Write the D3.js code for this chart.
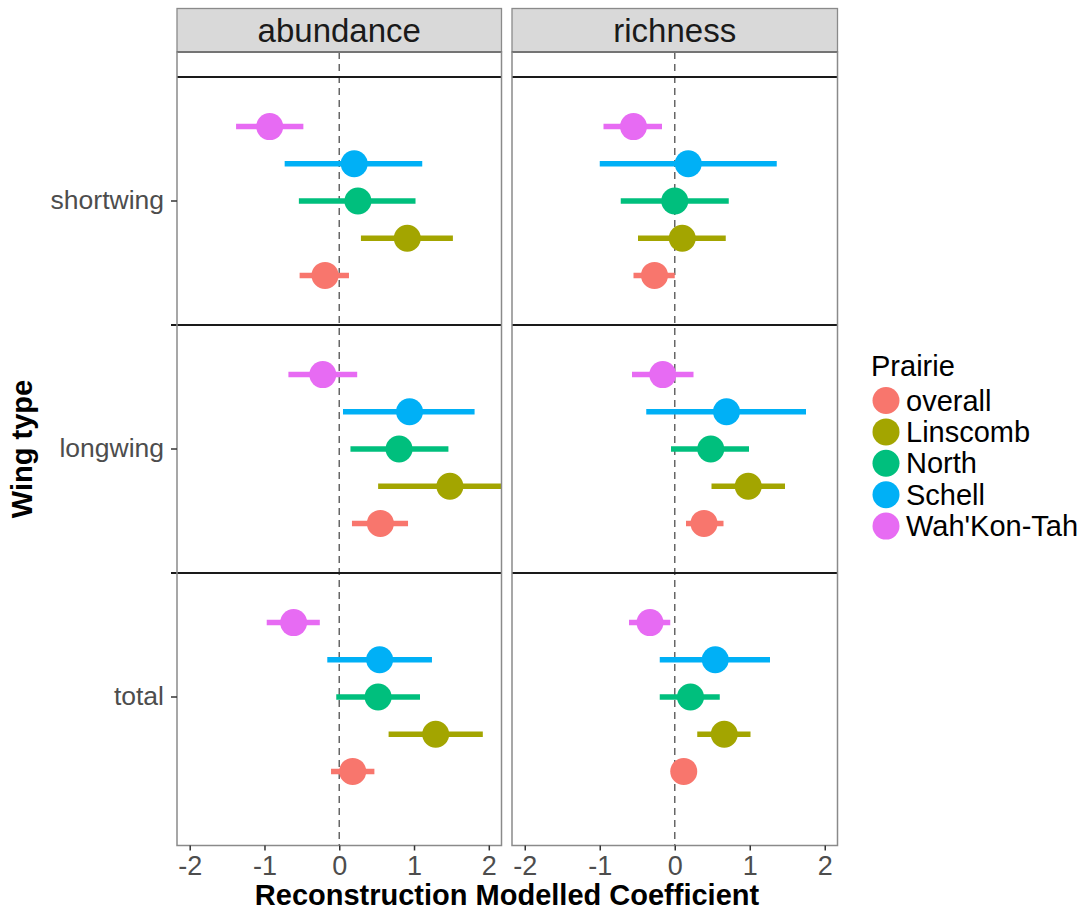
<!DOCTYPE html>
<html>
<head>
<meta charset="utf-8">
<script src="https://cdn.jsdelivr.net/npm/d3@7"></script>
<style>
  html, body { margin: 0; padding: 0; background: #fff; }
  svg { display: block; font-family: "Liberation Sans", Arial, sans-serif; }
</style>
</head>
<body>
<svg id="chart" width="1091" height="912"></svg>
<script>
// Categories
const metrics = ["abundance", "richness"];
const wingTypes = ["shortwing", "longwing", "total"];
const prairies = ["overall", "Linscomb", "North", "Schell", "Wah'Kon-Tah"];
const prairieColors = ["#F8766D", "#A3A500", "#00BF7D", "#00B0F6", "#E76BF3"];
const xTicks = [-2, -1, 0, 1, 2];

// Coefficient estimates and interval bounds, per wing type, in prairie order
const abundanceEst = {
  shortwing: [-0.19, 0.91, 0.25, 0.20, -0.93],
  longwing:  [0.55, 1.48, 0.80, 0.94, -0.22],
  total:     [0.18, 1.29, 0.52, 0.54, -0.61]
};
const abundanceLower = {
  shortwing: [-0.53, 0.29, -0.54, -0.73, -1.38],
  longwing:  [0.17, 0.52, 0.15, 0.05, -0.68],
  total:     [-0.11, 0.66, -0.04, -0.16, -0.97]
};
const abundanceUpper = {
  shortwing: [0.13, 1.52, 1.02, 1.11, -0.48],
  longwing:  [0.92, 2.45, 1.46, 1.81, 0.24],
  total:     [0.47, 1.92, 1.08, 1.24, -0.26]
};
const richnessEst = {
  shortwing: [-0.27, 0.10, 0.00, 0.18, -0.55],
  longwing:  [0.39, 0.98, 0.48, 0.69, -0.16],
  total:     [0.12, 0.66, 0.21, 0.54, -0.33]
};
const richnessLower = {
  shortwing: [-0.55, -0.49, -0.72, -1.00, -0.95],
  longwing:  [0.15, 0.49, -0.05, -0.38, -0.57],
  total:     [0.02, 0.30, -0.20, -0.20, -0.61]
};
const richnessUpper = {
  shortwing: [0.00, 0.68, 0.72, 1.36, -0.17],
  longwing:  [0.65, 1.47, 0.99, 1.75, 0.25],
  total:     [0.22, 1.01, 0.60, 1.27, -0.06]
};

const seriesByMetric = {
  abundance: { est: abundanceEst, lo: abundanceLower, hi: abundanceUpper },
  richness:  { est: richnessEst,  lo: richnessLower,  hi: richnessUpper }
};

// Layout
const svg = d3.select("#chart");
const stripTop = 8.5, stripBottom = 52, panelBottom = 845.5;
const panelX = { abundance: [177, 501.5], richness: [512, 837.5] };
const xDomain = [-2.17, 2.17];
const FONT = "Liberation Sans, Arial, sans-serif";

// one band per wing type; separators sit on band edges
const y = d3.scaleBand().domain(wingTypes).range([77, 821]).padding(0);
const dodge = d3.scalePoint()
  .domain(prairies.slice().reverse())
  .range([-0.3 * y.bandwidth(), 0.3 * y.bandwidth()]);
const color = d3.scaleOrdinal().domain(prairies).range(prairieColors);

const rows = [];
wingTypes.forEach(w => prairies.forEach((p, i) => rows.push({ wing: w, prairie: p, i })));

metrics.forEach((m, mi) => {
  const [x0, x1] = panelX[m];
  const x = d3.scaleLinear().domain(xDomain).range([x0, x1]);
  const s = seriesByMetric[m];
  const g = svg.append("g");

  // strip
  g.append("rect")
    .attr("x", x0).attr("y", stripTop)
    .attr("width", x1 - x0).attr("height", stripBottom - stripTop)
    .attr("fill", "#D9D9D9").attr("stroke", "#8a8a8a").attr("stroke-width", 1.3);
  g.append("text")
    .attr("x", (x0 + x1) / 2).attr("y", 42)
    .attr("text-anchor", "middle")
    .attr("font-size", 33).attr("fill", "#1A1A1A")
    .text(m);

  // panel background
  g.append("rect")
    .attr("x", x0).attr("y", stripBottom)
    .attr("width", x1 - x0).attr("height", panelBottom - stripBottom)
    .attr("fill", "#fff");

  const clipId = "clip-" + m;
  svg.append("clipPath").attr("id", clipId)
    .append("rect").attr("x", x0).attr("y", stripBottom)
    .attr("width", x1 - x0).attr("height", panelBottom - stripBottom);

  // zero reference
  g.append("line")
    .attr("x1", x(0)).attr("x2", x(0))
    .attr("y1", stripBottom).attr("y2", panelBottom)
    .attr("stroke", "#666").attr("stroke-width", 1.5)
    .attr("stroke-dasharray", "7,5");

  // band separators
  const seps = [y.range()[0]].concat(wingTypes.slice(1).map(w => y(w)));
  g.selectAll(".sep").data(seps).enter().append("line")
    .attr("x1", (d, k) => (mi === 0 && k > 0) ? x0 - 6 : x0)
    .attr("x2", x1)
    .attr("y1", d => d).attr("y2", d => d)
    .attr("stroke", "#1a1a1a").attr("stroke-width", 2);
  g.append("line")
    .attr("x1", x0).attr("x2", x1)
    .attr("y1", stripBottom).attr("y2", stripBottom)
    .attr("stroke", "#333").attr("stroke-width", 2);

  const marks = g.append("g").attr("clip-path", `url(#${clipId})`);
  // interval bars
  marks.selectAll(".bar").data(rows).enter().append("line")
    .attr("x1", d => x(s.lo[d.wing][d.i]))
    .attr("x2", d => x(s.hi[d.wing][d.i]))
    .attr("y1", d => y(d.wing) + y.bandwidth() / 2 + dodge(d.prairie))
    .attr("y2", d => y(d.wing) + y.bandwidth() / 2 + dodge(d.prairie))
    .attr("stroke", d => color(d.prairie))
    .attr("stroke-width", 5.5);
  // estimates
  marks.selectAll(".pt").data(rows).enter().append("circle")
    .attr("cx", d => x(s.est[d.wing][d.i]))
    .attr("cy", d => y(d.wing) + y.bandwidth() / 2 + dodge(d.prairie))
    .attr("r", 13.5)
    .attr("fill", d => color(d.prairie));

  // panel border
  g.append("rect")
    .attr("x", x0).attr("y", stripBottom)
    .attr("width", x1 - x0).attr("height", panelBottom - stripBottom)
    .attr("fill", "none").attr("stroke", "#8a8a8a").attr("stroke-width", 1.5);

  // x axis
  const ax = g.append("g").attr("transform", `translate(0,${panelBottom})`)
    .call(d3.axisBottom(x).tickValues(xTicks).tickSize(5).tickPadding(5)
      .tickFormat(d3.format("d")));
  ax.select(".domain").remove();
  ax.selectAll(".tick line").attr("stroke", "#333").attr("stroke-width", 1.5);
  ax.selectAll(".tick text")
    .attr("font-size", 27).attr("fill", "#4D4D4D")
    .attr("font-family", FONT)
    .text(d => d < 0 ? "-" + Math.abs(d) : d);
});

// y axis on the left panel
const ay = svg.append("g").attr("transform", `translate(${panelX.abundance[0]},0)`)
  .call(d3.axisLeft(y).tickSize(6).tickPadding(7));
ay.select(".domain").remove();
ay.selectAll(".tick line").attr("stroke", "#333").attr("stroke-width", 1.5);
ay.selectAll(".tick text")
  .attr("font-size", 26.5).attr("fill", "#4D4D4D")
  .attr("font-family", FONT);

// axis titles
svg.append("text")
  .attr("x", 507).attr("y", 905)
  .attr("text-anchor", "middle")
  .attr("font-size", 29).attr("font-weight", "bold").attr("fill", "#000")
  .text("Reconstruction Modelled Coefficient");
svg.append("text")
  .attr("transform", "translate(32,449) rotate(-90)")
  .attr("text-anchor", "middle")
  .attr("font-size", 29).attr("font-weight", "bold").attr("fill", "#000")
  .text("Wing type");

// legend
const lg = svg.append("g").attr("transform", "translate(870,0)");
lg.append("text").attr("x", 1).attr("y", 376)
  .attr("font-size", 29).attr("fill", "#000").text("Prairie");
const items = lg.selectAll(".item").data(prairies).enter().append("g")
  .attr("transform", (d, k) => `translate(0,${400.5 + k * 31.4})`);
items.append("circle").attr("cx", 16).attr("cy", 0).attr("r", 13.5)
  .attr("fill", d => color(d));
items.append("text").attr("x", 36).attr("y", 10)
  .attr("font-size", 29).attr("fill", "#000").text(d => d);
</script>
</body>
</html>
